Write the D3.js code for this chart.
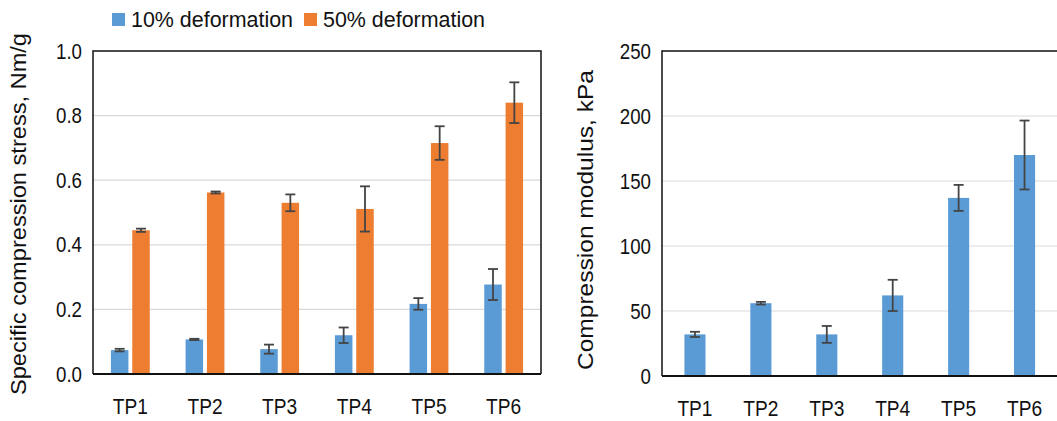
<!DOCTYPE html>
<html><head><meta charset="utf-8">
<script src="https://cdn.jsdelivr.net/npm/d3@7"></script>
<style>
body{margin:0;background:#fff}
svg{display:block}
text{font-family:"Liberation Sans",Arial,sans-serif;fill:#111}
</style>
</head><body><svg id="c" width="1057" height="421"></svg>
<script>
const categories = ["TP1","TP2","TP3","TP4","TP5","TP6"];
const seriesNames = ["10% deformation","50% deformation"];
const stress10 = [0.074,0.107,0.077,0.120,0.217,0.277];
const stress10Err = [0.004,0.002,0.014,0.024,0.018,0.048];
const stress50 = [0.445,0.562,0.530,0.511,0.715,0.840];
const stress50Err = [0.005,0.003,0.026,0.070,0.052,0.063];
const modulus = [32,56,32,62,137,170];
const modulusErr = [2,1,6.5,12,10,26.5];
const stressTicks = [0,0.2,0.4,0.6,0.8,1.0];
const modulusTicks = [0,50,100,150,200,250];
const colors = ["#5b9bd5","#ed7d31"];

const svg = d3.select("#c");
const FS = 22;

function scaleText(sel, k){
  sel.each(function(){
    const L = this.getComputedTextLength();
    d3.select(this).attr("textLength", L*k).attr("lengthAdjust","spacingAndGlyphs");
  });
}

function drawPanel(cfg){
  const g = svg.append("g");
  const x = d3.scaleBand().domain(categories).range([cfg.left,cfg.right]).paddingInner(cfg.pi).paddingOuter(cfg.pi/2);
  const y = d3.scaleLinear().domain([0,cfg.max]).range([cfg.bottom,cfg.top]);
  g.append("g").selectAll("line").data(cfg.ticks.filter(t=>t>0&&t<cfg.max)).join("line")
    .attr("x1",cfg.left).attr("x2",cfg.frameRight).attr("y1",d=>y(d)).attr("y2",d=>y(d))
    .attr("stroke","#d9d9d9").attr("stroke-width",1.2);
  const sub = d3.scaleBand().domain(d3.range(cfg.series.length)).range([0,x.bandwidth()]).paddingInner(cfg.subPad);
  cfg.series.forEach((s,si)=>{
    g.append("g").selectAll("rect").data(categories).join("rect")
      .attr("x",(c)=>x(c)+sub(si)).attr("width",sub.bandwidth())
      .attr("y",(c,i)=>y(s.values[i])).attr("height",(c,i)=>y(0)-y(s.values[i]))
      .attr("fill",s.color);
    const eg = g.append("g").attr("stroke","#444").attr("stroke-width",1.8);
    categories.forEach((c,i)=>{
      const cx = x(c)+sub(si)+sub.bandwidth()/2;
      const lo = y(s.values[i]-s.err[i]), hi = y(s.values[i]+s.err[i]);
      eg.append("line").attr("x1",cx).attr("x2",cx).attr("y1",lo).attr("y2",hi);
      eg.append("line").attr("x1",cx-5).attr("x2",cx+5).attr("y1",lo).attr("y2",lo);
      eg.append("line").attr("x1",cx-5).attr("x2",cx+5).attr("y1",hi).attr("y2",hi);
    });
  });
  g.append("path").attr("d",`M${cfg.left},${cfg.bottom}V${cfg.top}H${cfg.frameRight}V${cfg.bottom}`)
    .attr("fill","none").attr("stroke","#111").attr("stroke-width",1.5);
  g.append("line").attr("x1",cfg.left).attr("x2",cfg.frameRight).attr("y1",cfg.bottom).attr("y2",cfg.bottom)
    .attr("stroke","#111").attr("stroke-width",2);
  const ya = g.append("g").attr("transform",`translate(${cfg.left},0)`)
    .call(d3.axisLeft(y).tickValues(cfg.ticks).tickSize(0).tickPadding(11).tickFormat(cfg.fmt));
  ya.select(".domain").remove();
  ya.selectAll("text").attr("font-size",FS).attr("font-family",null).attr("fill","#111").call(scaleText,0.85);
  const xa = g.append("g").attr("transform",`translate(0,${cfg.bottom})`)
    .call(d3.axisBottom(x).tickSize(0).tickPadding(24));
  xa.select(".domain").remove();
  xa.selectAll("text").attr("font-size",FS).attr("font-family",null).attr("fill","#111").call(scaleText,0.87);
  g.append("text").attr("transform",`translate(${cfg.titleX},${cfg.titleY}) rotate(-90)`)
    .attr("text-anchor","middle").attr("font-size",FS).text(cfg.title)
    .attr("textLength",cfg.titleLen).attr("lengthAdjust","spacingAndGlyphs");
}

drawPanel({left:93,right:541,frameRight:541,top:51,bottom:374,max:1.0,pi:0.48,subPad:0.18,
  ticks:stressTicks,fmt:d3.format(".1f"),
  series:[{values:stress10,err:stress10Err,color:colors[0]},{values:stress50,err:stress50Err,color:colors[1]}],
  title:"Specific compression  stress, Nm/g",titleX:26,titleY:214,titleLen:362});

drawPanel({left:662,right:1057.5,frameRight:1060,top:51,bottom:376,max:250,pi:0.68,subPad:0,
  ticks:modulusTicks,fmt:d3.format("d"),
  series:[{values:modulus,err:modulusErr,color:colors[0]}],
  title:"Compression modulus, kPa",titleX:593,titleY:220,titleLen:300});

const lg = svg.append("g");
const legendX = [112,304];
seriesNames.forEach((n,i)=>{
  lg.append("rect").attr("x",legendX[i]).attr("y",13).attr("width",13).attr("height",13).attr("fill",colors[i]);
  lg.append("text").attr("x",legendX[i]+19).attr("y",27).attr("font-size",FS).text(n)
    .attr("textLength",162).attr("lengthAdjust","spacingAndGlyphs");
});
</script>
</body></html>
